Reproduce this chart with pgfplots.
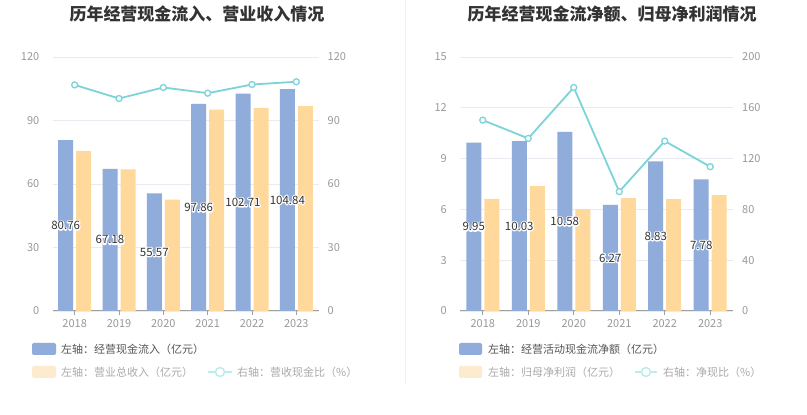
\documentclass[border=0pt]{standalone}
\usepackage{pgfplots}
\pgfplotsset{compat=1.18}
\usepackage{pgfplotstable}
\usepackage{fontspec}
\setmainfont{Noto Sans CJK SC}
\definecolor{cblue}{HTML}{8FACDB}
\definecolor{corange}{HTML}{FFD99B}
\definecolor{cline}{HTML}{7DD3DA}
\definecolor{cgrid}{HTML}{E8EBF2}
\definecolor{caxis}{HTML}{A0A0A0}
\definecolor{ctick}{HTML}{999999}
\definecolor{ctitle}{HTML}{333333}
\definecolor{clab}{HTML}{333333}
\definecolor{clegA}{HTML}{555555}
\definecolor{clegB}{HTML}{AAAAAA}
\definecolor{corangeL}{HTML}{FDEBD0}
\definecolor{clineL}{HTML}{BDEBEE}
\definecolor{csep}{HTML}{F2F2F2}

% white outline (stroke-only copy) behind the label text
\newcommand\halo[1]{\rlap{\special{pdf:literal direct q 1 Tr 2.4 w 1 J 1 j 1 1 1 RG}#1\special{pdf:literal direct Q}}#1}

\pgfplotstableread{
x a b r
0 80.76 75.6 106.8
1 67.18 66.9 100.4
2 55.57 52.6 105.6
3 97.86 95.1 102.9
4 102.71 96.0 107.0
5 104.84 96.8 108.3
}\dataL

\pgfplotstableread{
x a b r
0 9.95 6.62 150.3
1 10.03 7.38 135.9
2 10.58 6.01 176.0
3 6.27 6.67 94.0
4 8.83 6.60 133.8
5 7.78 6.85 113.6
}\dataR

\pgfplotsset{
  base/.style={scale only axis, height=254pt, xmin=-0.5, xmax=5.5, ymin=0,
    ticklabel style={font=\fontsize{11}{13}\selectfont, text=ctick},
    /pgf/number format/assume math mode=true},
  prim/.style={base, axis x line*=bottom, axis y line*=left,
    x axis line style={draw=caxis, line width=1pt, -},
    y axis line style={draw=none},
    xtick={0,...,5}, xticklabels={2018,2019,2020,2021,2022,2023},
    xtick style={draw=caxis, line width=0.8pt},
    major tick length=4pt, tick align=outside,
    ytick style={draw=none},
    ymajorgrids, grid style={draw=cgrid, line width=0.8pt},
    yticklabel style={inner sep=0pt, xshift=-9pt},
    xticklabel style={inner sep=0pt, yshift=-4pt}},
  sec/.style={base, axis x line=none, axis y line*=right,
    y axis line style={draw=none}, ytick style={draw=none},
    yticklabel style={inner sep=0pt, xshift=9pt}},
  bluebar/.style={ybar, bar width=15pt, bar shift=-9pt, fill=cblue, draw=none},
  orangebar/.style={ybar, bar width=15pt, bar shift=9pt, fill=corange, draw=none},
  labs/.style={draw=none, mark=none, point meta=explicit symbolic,
    nodes near coords={\halo{\pgfplotspointmeta}},
    every node near coord/.append style={anchor=center, xshift=-9pt, inner sep=0pt,
      font=\fontsize{11.5}{13}\selectfont, text=clab}},
  ratio/.style={cline, line width=1.8pt, mark=*, mark size=3pt,
    mark options={fill=white, draw=cline, line width=1.3pt}},
}

\begin{document}
\begin{tikzpicture}
\useasboundingbox (0pt,0pt) rectangle (807pt,415pt);
\fill[white] (0pt,0pt) rectangle (807pt,415pt);
\draw[csep, line width=1pt] (405.7pt,30pt) -- (405.7pt,415pt);

% ---------- left chart (axis box 52.5..318.5, origin at first category centre) ----------
\begin{axis}[prim, at={(74.67pt,104pt)}, anchor=origin, width=266pt, ymax=120, ytick={0,30,60,90,120}]
\addplot[bluebar] table[x=x,y=a]{\dataL};
\addplot[orangebar] table[x=x,y=b]{\dataL};
\addplot[labs] table[x=x, y expr=\thisrow{a}/2, meta=a]{\dataL};
\end{axis}
\begin{axis}[sec, at={(74.67pt,104pt)}, anchor=origin, width=266pt, ymax=120, ytick={0,30,60,90,120}]
\addplot[ratio] table[x=x,y=r]{\dataL};
\end{axis}

% ---------- right chart (axis box 460..733) ----------
\begin{axis}[prim, at={(482.75pt,104pt)}, anchor=origin, width=273pt, ymax=15, ytick={0,3,6,9,12,15}]
\addplot[bluebar] table[x=x,y=a]{\dataR};
\addplot[orangebar] table[x=x,y=b]{\dataR};
\addplot[labs] table[x=x, y expr=\thisrow{a}/2, meta=a]{\dataR};
\end{axis}
\begin{axis}[sec, at={(482.75pt,104pt)}, anchor=origin, width=273pt, ymax=200, ytick={0,40,80,120,160,200}]
\addplot[ratio] table[x=x,y=r]{\dataR};
\end{axis}

% ---------- titles ----------
\node[font=\fontsize{17}{20}\selectfont\bfseries, text=ctitle] at (197pt,401pt) {历年经营现金流入、营业收入情况};
\node[font=\fontsize{17}{20}\selectfont\bfseries, text=ctitle] at (612pt,401pt) {历年经营现金流净额、归母净利润情况};

% ---------- legends ----------
\begin{scope}[every node/.style={anchor=west, inner sep=0pt, font=\fontsize{11}{13}\selectfont}]
\fill[cblue, rounded corners=2pt] (32pt,60pt) rectangle (56pt,72pt);
\node[text=clegA] at (61pt,66pt) {左轴：经营现金流入（亿元）};
\fill[corangeL, rounded corners=2pt] (32pt,37pt) rectangle (56pt,49pt);
\node[text=clegB] at (61pt,43pt) {左轴：营业总收入（亿元）};
\draw[clineL, line width=1.5pt] (208pt,43pt) -- (232pt,43pt);
\draw[clineL, line width=1.5pt, fill=white] (220pt,43pt) circle (4.5pt);
\node[text=clegB] at (237pt,43pt) {右轴：营收现金比（\%）};

\fill[cblue, rounded corners=2pt] (459pt,60pt) rectangle (482pt,72pt);
\node[text=clegA] at (488pt,66pt) {左轴：经营活动现金流净额（亿元）};
\fill[corangeL, rounded corners=2pt] (459pt,37pt) rectangle (482pt,49pt);
\node[text=clegB] at (488pt,43pt) {左轴：归母净利润（亿元）};
\draw[clineL, line width=1.5pt] (635pt,43pt) -- (657pt,43pt);
\draw[clineL, line width=1.5pt, fill=white] (646pt,43pt) circle (4.5pt);
\node[text=clegB] at (663pt,43pt) {右轴：净现比（\%）};
\end{scope}
\end{tikzpicture}
\end{document}
